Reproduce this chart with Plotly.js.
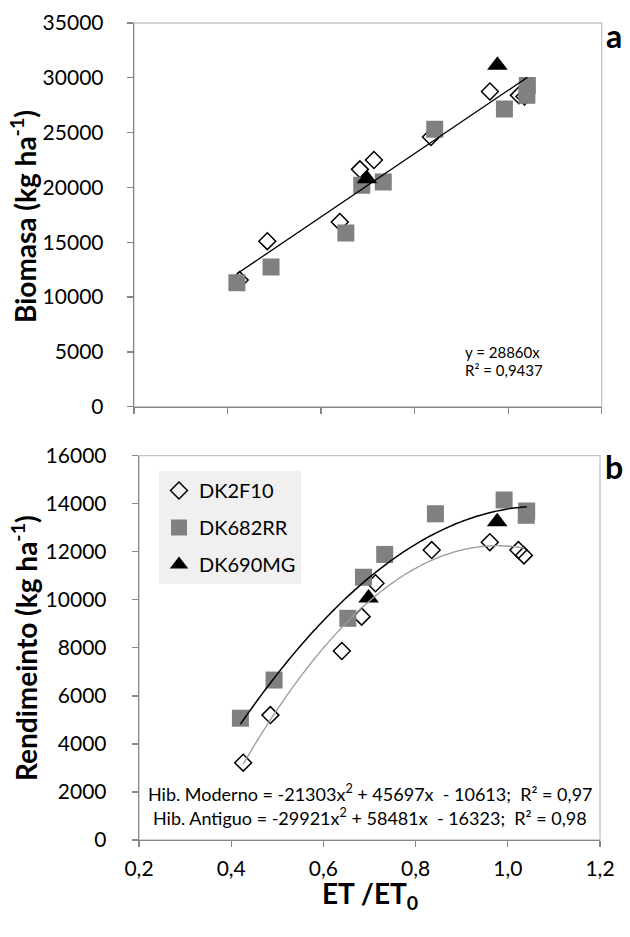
<!DOCTYPE html>
<html>
<head>
<meta charset="utf-8">
<script src="https://cdn.plot.ly/plotly-3.0.1.min.js"></script>
<style>html,body{margin:0;padding:0;background:#fff;}#chart{width:630px;height:937px;}</style>
</head>
<body>
<div id="chart"></div>
<script>
// ---- data ----
const etDK2F10  = [0.426, 0.485, 0.640, 0.683, 0.713, 0.835, 0.961, 1.023, 1.035];
const etDK682RR = [0.420, 0.493, 0.653, 0.687, 0.733, 0.843, 0.992, 1.040, 1.041];
const etDK690MG = [0.698, 0.977];

const bioDK2F10  = [11550, 15100, 16850, 21650, 22500, 24600, 28750, 28400, 28300];
const bioDK682RR = [11300, 12750, 15850, 20200, 20500, 25300, 27150, 28400, 29300];
const bioDK690MG = [20800, 31150];

const rendDK2F10  = [3220, 5200, 7870, 9300, 10690, 12070, 12400, 12070, 11850];
const rendDK682RR = [5070, 6660, 9230, 10940, 11890, 13580, 14160, 13520, 13700];
const rendDK690MG = [10080, 13250];

const slopeBiomasa = 28860;                   // y = 28860x
const coefModerno  = [-21303, 45697, -10613]; // a x^2 + b x + c
const coefAntiguo  = [-29921, 58481, -16323];

const seriesNames = ['DK2F10', 'DK682RR', 'DK690MG'];
const xTickVals = [0.2, 0.4, 0.6, 0.8, 1.0, 1.2];

// ---- helpers ----
const W = 630, H = 937;
const FONT = 'Lato, "Open Sans", sans-serif';
const AX = '#868686';
function lin(x0, x1, n) { const a = []; for (let i = 0; i < n; i++) a.push(x0 + (x1 - x0) * i / (n - 1)); return a; }
function poly(c, x) { return c[0] * x * x + c[1] * x + c[2]; }

const allModernX = etDK682RR.concat(etDK690MG);
const allX = etDK2F10.concat(allModernX);
const lineX = [Math.min(...allX), Math.max(...allX)];
const modX = lin(Math.min(...allModernX), Math.max(...allModernX), 80);
const antX = lin(Math.min(...etDK2F10), Math.max(...etDK2F10), 80);

const mDiamond = {symbol: 'diamond-open', size: 13, color: '#000', line: {width: 1.5, color: '#000'}};
const mSquare  = {symbol: 'square', size: 17, color: '#808080'};
const mTri     = {symbol: 'triangle-up', size: 18, color: '#000'};

const traces = [
  // panel a
  {x: etDK2F10, y: bioDK2F10, xaxis: 'x', yaxis: 'y', mode: 'markers', marker: mDiamond, showlegend: false, name: seriesNames[0]},
  {x: etDK682RR, y: bioDK682RR, xaxis: 'x', yaxis: 'y', mode: 'markers', marker: mSquare, showlegend: false, name: seriesNames[1]},
  {x: etDK690MG, y: bioDK690MG, xaxis: 'x', yaxis: 'y', mode: 'markers', marker: mTri, showlegend: false, name: seriesNames[2]},
  {x: lineX, y: lineX.map(v => slopeBiomasa * v), xaxis: 'x', yaxis: 'y', mode: 'lines', line: {color: '#000', width: 1.3}, showlegend: false},
  // panel b
  {x: etDK2F10, y: rendDK2F10, xaxis: 'x2', yaxis: 'y2', mode: 'markers', marker: mDiamond, name: seriesNames[0], legendgroup: 'g1'},
  {x: etDK682RR, y: rendDK682RR, xaxis: 'x2', yaxis: 'y2', mode: 'markers', marker: mSquare, name: seriesNames[1], legendgroup: 'g2'},
  {x: etDK690MG, y: rendDK690MG, xaxis: 'x2', yaxis: 'y2', mode: 'markers', marker: mTri, name: seriesNames[2], legendgroup: 'g3'},
  {x: antX, y: antX.map(v => poly(coefAntiguo, v)), xaxis: 'x2', yaxis: 'y2', mode: 'lines', line: {color: '#9a9a9a', width: 1.3, shape: 'spline'}, showlegend: false},
  {x: modX, y: modX.map(v => poly(coefModerno, v)), xaxis: 'x2', yaxis: 'y2', mode: 'lines', line: {color: '#000', width: 1.5, shape: 'spline'}, showlegend: false}
];

const baseAxis = {
  showgrid: false, zeroline: false, showline: true, linecolor: AX, linewidth: 1.3,
  ticks: 'outside', ticklen: 6, tickcolor: AX, tickwidth: 1.3,
  tickfont: {family: FONT, size: 21, color: '#000'}, fixedrange: true
};

const layout = {
  width: W, height: H,
  margin: {l: 0, r: 0, t: 0, b: 0},
  paper_bgcolor: '#fff', plot_bgcolor: '#fff',
  separators: ', ',
  font: {family: FONT, color: '#000'},
  xaxis: Object.assign({}, baseAxis, {domain: [134 / W, 601.7 / W], anchor: 'y', range: [0.2, 1.2], tickvals: xTickVals, showticklabels: false}),
  yaxis: Object.assign({}, baseAxis, {domain: [1 - 406.7 / H, 1 - 23 / H], anchor: 'x', range: [0, 35000], dtick: 5000, tick0: 0, tickformat: 'd', ticklabelstandoff: 19}),
  xaxis2: Object.assign({}, baseAxis, {domain: [139 / W, 600 / W], anchor: 'y2', range: [0.2, 1.2], tickvals: xTickVals, tickformat: '.1f', ticklabelstandoff: 3}),
  yaxis2: Object.assign({}, baseAxis, {domain: [1 - 840 / H, 1 - 455.7 / H], anchor: 'x2', range: [0, 16000], dtick: 2000, tick0: 0, tickformat: 'd', ticklabelstandoff: 21}),
  showlegend: true,
  legend: {
    x: 159 / W, y: 1 - 471 / H, xanchor: 'left', yanchor: 'top',
    bgcolor: '#f0f0f0', borderwidth: 0,
    font: {family: FONT, size: 20, color: '#000'},
    traceorder: 'grouped', tracegroupgap: 8, itemwidth: 30
  },
  shapes: [
    {type: 'rect', xref: 'x domain', yref: 'y domain', x0: 0, x1: 1, y0: 0, y1: 1, line: {color: '#c4c4c4', width: 1.3}, layer: 'below'},
    {type: 'rect', xref: 'x2 domain', yref: 'y2 domain', x0: 0, x1: 1, y0: 0, y1: 1, line: {color: '#c4c4c4', width: 1.3}, layer: 'below'}
  ],
  annotations: [
    {xref: 'paper', yref: 'paper', x: 463 / W, y: 1 - 352 / H, xanchor: 'left', yanchor: 'middle', showarrow: false,
     text: 'y = 28860x', font: {family: FONT, size: 15, color: '#000'}},
    {xref: 'paper', yref: 'paper', x: 463 / W, y: 1 - 370 / H, xanchor: 'left', yanchor: 'middle', showarrow: false,
     text: 'R² = 0,9437', font: {family: FONT, size: 15, color: '#000'}},
    {xref: 'paper', yref: 'paper', x: 370 / W, y: 1 - 793 / H, xanchor: 'center', yanchor: 'middle', showarrow: false,
     text: 'Hib. Moderno = -21303x<sup>2</sup> + 45697x  - 10613;  R² = 0,97', font: {family: FONT, size: 18, color: '#000'}},
    {xref: 'paper', yref: 'paper', x: 370 / W, y: 1 - 817 / H, xanchor: 'center', yanchor: 'middle', showarrow: false,
     text: 'Hib. Antiguo = -29921x<sup>2</sup> + 58481x  - 16323;  R² = 0,98', font: {family: FONT, size: 18, color: '#000'}},
    {xref: 'paper', yref: 'paper', x: 24 / W, y: 1 - 217 / H, xanchor: 'center', yanchor: 'middle', showarrow: false, textangle: -90,
     text: '<b>Biomasa (kg ha<sup>-1</sup>)</b>', font: {family: FONT, size: 28, color: '#000'}},
    {xref: 'paper', yref: 'paper', x: 24 / W, y: 1 - 648 / H, xanchor: 'center', yanchor: 'middle', showarrow: false, textangle: -90,
     text: '<b>Rendimeinto (kg ha<sup>-1</sup>)</b>', font: {family: FONT, size: 28, color: '#000'}},
    {xref: 'paper', yref: 'paper', x: 370 / W, y: 1 - 895 / H, xanchor: 'center', yanchor: 'middle', showarrow: false,
     text: '<b>ET /ET<sub>0</sub></b>', font: {family: FONT, size: 28, color: '#000'}},
    {xref: 'paper', yref: 'paper', x: 614 / W, y: 1 - 35 / H, xanchor: 'center', yanchor: 'middle', showarrow: false,
     text: '<b>a</b>', font: {family: FONT, size: 32, color: '#000'}},
    {xref: 'paper', yref: 'paper', x: 614 / W, y: 1 - 466 / H, xanchor: 'center', yanchor: 'middle', showarrow: false,
     text: '<b>b</b>', font: {family: FONT, size: 32, color: '#000'}}
  ]
};

Plotly.newPlot('chart', traces, layout, {displayModeBar: false, staticPlot: true});
</script>
</body>
</html>
